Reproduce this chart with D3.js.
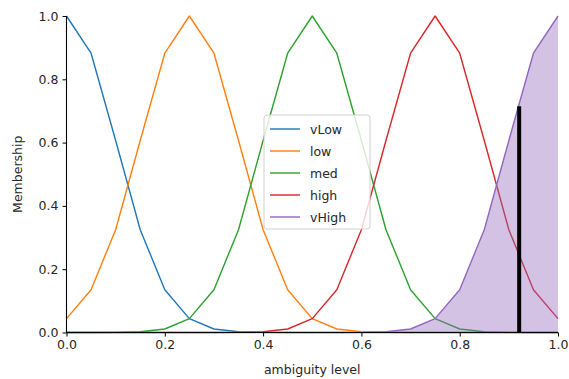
<!DOCTYPE html>
<html>
<head>
<meta charset="utf-8">
<script src="https://cdn.jsdelivr.net/npm/d3@7"></script>
<style>
  body { margin: 0; background: #fff; }
  svg text { font-family: "DejaVu Sans", sans-serif; fill: #262626; }
</style>
</head>
<body>
<svg id="chart" width="569" height="379"></svg>
<script>
// universe sampled every 0.05
const xs = d3.range(21).map(i => +(i * 0.05).toFixed(2));

const terms = ['vLow', 'low', 'med', 'high', 'vHigh'];
const vLow  = [1, 0.8825, 0.6065, 0.3247, 0.1353, 0.0439, 0.0111, 0.0022, 0.0003, 0, 0, 0, 0, 0, 0, 0, 0, 0, 0, 0, 0];
const low   = [0.0439, 0.1353, 0.3247, 0.6065, 0.8825, 1, 0.8825, 0.6065, 0.3247, 0.1353, 0.0439, 0.0111, 0.0022, 0.0003, 0, 0, 0, 0, 0, 0, 0];
const med   = [0, 0, 0.0003, 0.0022, 0.0111, 0.0439, 0.1353, 0.3247, 0.6065, 0.8825, 1, 0.8825, 0.6065, 0.3247, 0.1353, 0.0439, 0.0111, 0.0022, 0.0003, 0, 0];
const high  = [0, 0, 0, 0, 0, 0, 0, 0.0003, 0.0022, 0.0111, 0.0439, 0.1353, 0.3247, 0.6065, 0.8825, 1, 0.8825, 0.6065, 0.3247, 0.1353, 0.0439];
const vHigh = [0, 0, 0, 0, 0, 0, 0, 0, 0, 0, 0, 0, 0.0003, 0.0022, 0.0111, 0.0439, 0.1353, 0.3247, 0.6065, 0.8825, 1];
const series = [vLow, low, med, high, vHigh];
const colors = ['#1f77b4', '#ff7f0e', '#2ca02c', '#d62728', '#9467bd'];

// defuzzified output and its membership
const crisp = 0.921;
const crispMembership = 0.715;

const tickVals = [0, 0.2, 0.4, 0.6, 0.8, 1.0];

const svg = d3.select('#chart');
const x = d3.scaleLinear().domain([0, 1]).range([66.5, 558]);
const y = d3.scaleLinear().domain([0, 1]).range([332.5, 16]);

const line = d3.line().x((d, i) => x(xs[i])).y(d => y(d));
const area = d3.area().x((d, i) => x(xs[i])).y0(y(0)).y1(d => y(d));

// membership lines
series.forEach((s, k) => {
  svg.append('path')
    .attr('d', line(s))
    .attr('fill', 'none')
    .attr('stroke', colors[k])
    .attr('stroke-width', 1.4)
    .attr('stroke-linejoin', 'round');
});

// activated area
svg.append('path')
  .attr('d', area(vHigh))
  .attr('fill', '#9467bd')
  .attr('fill-opacity', 0.4);

// crisp value marker
svg.append('line')
  .attr('x1', x(crisp)).attr('x2', x(crisp))
  .attr('y1', y(0)).attr('y2', y(crispMembership))
  .attr('stroke', '#000')
  .attr('stroke-width', 4);

// axes
const xAxis = d3.axisBottom(x).tickValues(tickVals).tickFormat(d3.format('.1f')).tickSize(4).tickPadding(4);
const yAxis = d3.axisLeft(y).tickValues(tickVals).tickFormat(d3.format('.1f')).tickSize(4).tickPadding(4);

const gx = svg.append('g').attr('transform', `translate(0,${y(0)})`).call(xAxis);
const gy = svg.append('g').attr('transform', `translate(${x(0)},0)`).call(yAxis);
[gx, gy].forEach(g => {
  g.select('.domain').attr('stroke', '#000').attr('stroke-width', 1.1);
  g.selectAll('.tick line').attr('stroke', '#000').attr('stroke-width', 1);
  g.selectAll('.tick text').attr('font-size', 12.5).attr('fill', '#262626')
    .attr('font-family', '"DejaVu Sans", sans-serif');
});
gx.select('.domain').attr('d', `M${x(0)},0H${x(1)}`);
gy.select('.domain').attr('d', `M0,${y(0)}V${y(1)}`);

svg.append('text')
  .attr('x', (x(0) + x(1)) / 2).attr('y', 374)
  .attr('text-anchor', 'middle').attr('font-size', 12.5)
  .text('ambiguity level');

svg.append('text')
  .attr('transform', `translate(22,${(y(0) + y(1)) / 2}) rotate(-90)`)
  .attr('text-anchor', 'middle').attr('font-size', 12.5)
  .text('Membership');

// legend
const legend = svg.append('g').attr('transform', 'translate(264,115)');
legend.append('rect')
  .attr('width', 106).attr('height', 114)
  .attr('rx', 3)
  .attr('fill', '#fff').attr('fill-opacity', 0.8)
  .attr('stroke', '#d0d0d0');
terms.forEach((t, k) => {
  const ry = 14 + k * 22;
  legend.append('line')
    .attr('x1', 6).attr('x2', 36).attr('y1', ry).attr('y2', ry)
    .attr('stroke', colors[k]).attr('stroke-width', 1.4);
  legend.append('text')
    .attr('x', 46).attr('y', ry + 4.5)
    .attr('font-size', 12.5)
    .text(t);
});
</script>
</body>
</html>
